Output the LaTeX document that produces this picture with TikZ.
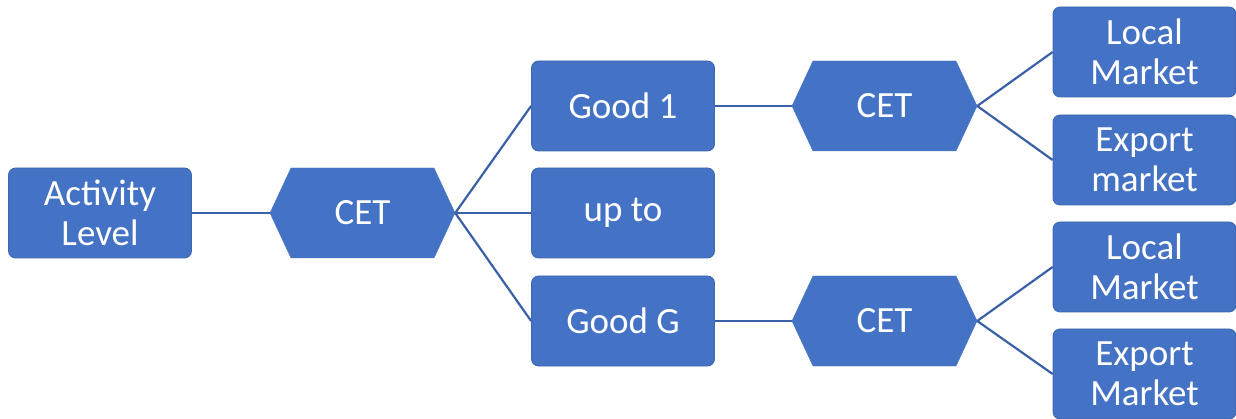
\documentclass[tikz,border=0pt]{standalone}
\usepackage{fontspec}
\setmainfont{Carlito}
\usetikzlibrary{shapes.symbols}
\definecolor{accent}{HTML}{4472C4}
\tikzset{
  box/.style={draw=accent!90!black, line width=0.8pt, fill=accent, rounded corners=7pt,
    minimum width=183pt, minimum height=90pt, inner sep=0pt, align=center,
    text=white, font=\fontsize{37}{40}\selectfont},
  hexa/.style={signal, signal to=west and east, signal pointer angle=130,
    draw=accent, fill=accent, minimum width=185pt, minimum height=90pt, inner sep=0pt,
    text=white, font=\fontsize{37}{40}\selectfont},
  link/.style={draw=accent!85!black, line width=2.2pt}
}
\begin{document}
\begin{tikzpicture}[x=1pt,y=-1pt]
\useasboundingbox (0,0) rectangle (1236,419);
% root and first branching
\node[box] (act) at (100,213) {Activity\\Level};
\node[hexa] (cet) at (362.5,213) {CET};
\node[box] (g1) at (623,106) {Good 1};
\node[box] (upto) at (623,213) {up to};
\node[box] (gG) at (623,321) {Good G};
% second level
\node[hexa] (cet1) at (884.5,106) {CET};
\node[hexa] (cetG) at (884.5,321) {CET};
% markets
\node[box] (loc1) at (1144.5,52) {Local\\Market};
\node[box] (exp1) at (1144.5,160) {Export\\market};
\node[box] (loc2) at (1144.5,267) {Local\\Market};
\node[box] (exp2) at (1144.5,374) {Export\\Market};
% connectors
\draw[link] (act.east) -- (cet.west);
\draw[link] (cet.east) -- (g1.west);
\draw[link] (cet.east) -- (upto.west);
\draw[link] (cet.east) -- (gG.west);
\draw[link] (g1.east) -- (cet1.west);
\draw[link] (gG.east) -- (cetG.west);
\draw[link] (cet1.east) -- (loc1.west);
\draw[link] (cet1.east) -- (exp1.west);
\draw[link] (cetG.east) -- (loc2.west);
\draw[link] (cetG.east) -- (exp2.west);
\end{tikzpicture}
\end{document}
